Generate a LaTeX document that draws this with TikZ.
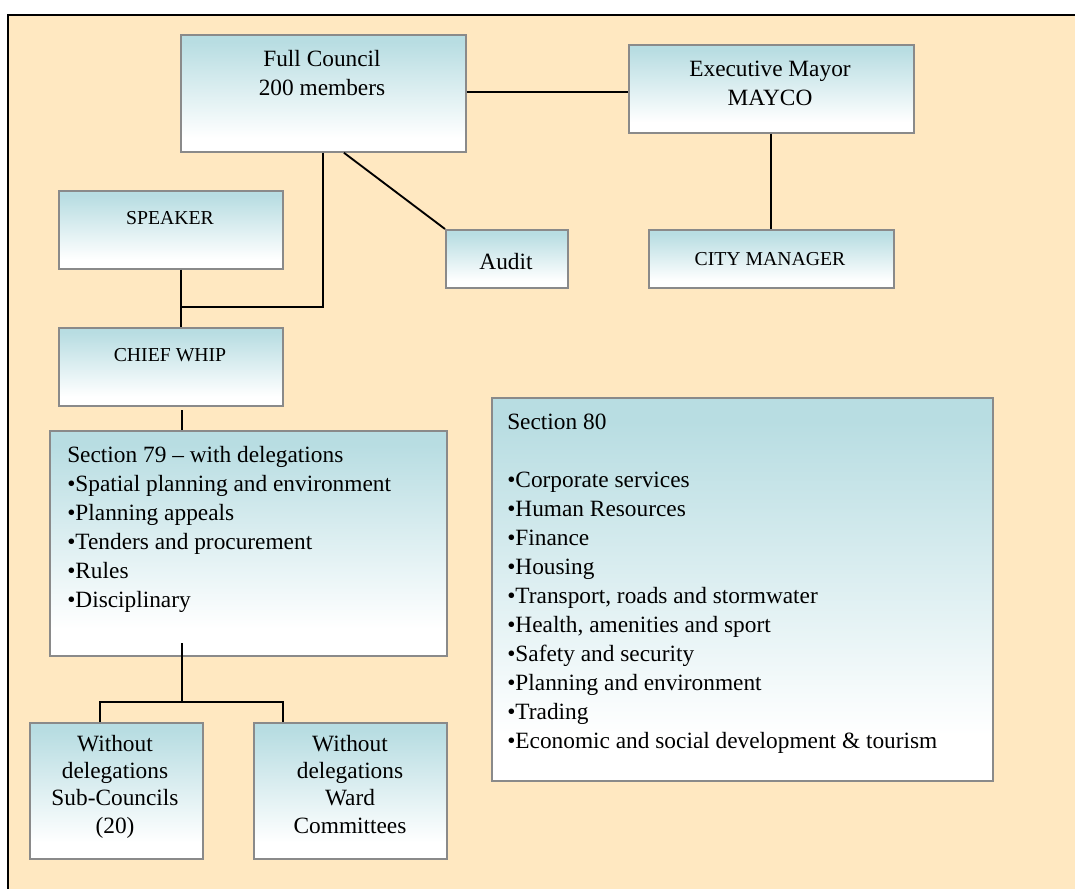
\documentclass[tikz,border=0pt]{standalone}
\usepackage{fontspec}
\setmainfont{Liberation Serif}
\usetikzlibrary{calc}

\definecolor{paper}{RGB}{255,232,193}
\definecolor{boxblue}{RGB}{184,221,226}
\definecolor{boxedge}{RGB}{138,138,138}

% light blue at the top fading to white near the bottom
\pgfdeclareverticalshading{boxfade}{100bp}{color(0bp)=(white); color(25bp)=(white); color(31bp)=(white); color(72bp)=(boxblue); color(100bp)=(boxblue)}

\tikzset{
  orgbox/.style={draw=boxedge, line width=1.3pt, shading=boxfade, inner sep=0pt, anchor=north west},
  link/.style={draw=black, line width=1.4pt},
  bigtext/.style={font=\fontsize{17.5}{21.75}\selectfont, inner sep=0pt},
  smalltext/.style={font=\fontsize{14.8}{17}\selectfont, inner sep=0pt},
}

% box from (x1,y1) to (x2,y2), in pixel units with y growing downwards
\newcommand\orgbox[5]{%
  \node[orgbox, minimum width={(#4-#2)*0.75pt}, minimum height={(#5-#3)*0.75pt}] (#1) at (#2,#3) {};}

\begin{document}
\begin{tikzpicture}[x=0.75pt, y=-0.75pt]
  \useasboundingbox (0,0) rectangle (1075,889);
  \clip (0,0) rectangle (1075,889);

  % page background with its top and left rule
  \fill[paper] (8,15) rectangle (1085,895);
  \draw[line width=1.5pt] (8,895) -- (8,15) -- (1085,15);

  % boxes
  \orgbox{fc}{180}{34}{465}{151}
  \orgbox{em}{628}{44}{913}{132}
  \orgbox{cm}{648}{229}{893}{287}
  \orgbox{au}{445}{229}{567}{287}
  \orgbox{sp}{58}{190}{282}{268}
  \orgbox{cw}{58}{327}{282}{405}
  \orgbox{sa}{49}{430}{446}{655}
  \orgbox{sc}{29}{722}{202}{858}
  \orgbox{wc}{253}{722}{446}{858}
  \orgbox{sb}{491}{397}{992}{780}

  % helper points for the elbow connectors
  \coordinate (j)  at (181,307);
  \coordinate (k1) at (182,410);
  \coordinate (k2) at (182,643);
  \coordinate (b0) at (182,702);
  \coordinate (b1) at (100,702);
  \coordinate (b2) at (283,702);

  % connectors
  \draw[link] (fc.east |- 0,92) -- (em.west |- 0,92);
  \draw[link] (em.south) -- (cm.north);
  \draw[link] ([xshift=15.4pt]fc.south) -- (au.north west);
  \draw[link] (fc.south) -- (fc.south |- j) -- (j);
  \draw[link] (sp.south -| j) -- (cw.north -| j);
  \draw[link] (k1) -- (k1 |- sa.north);
  \draw[link] (k2) -- (b0);
  \draw[link] (b1 |- sc.north) -- (b1) -- (b2) -- (b2 |- wc.north);

  % labels (multi-line labels are placed by the baseline of their last line)
  \node[bigtext, align=center, anchor=base] (fc-t) at (322,95) {Full Council\\200 members};
  \node[bigtext, align=center, anchor=base] (em-t) at (770,105) {Executive Mayor\\MAYCO};
  \node[bigtext, anchor=base] (au-t) at (506,269) {Audit};
  \node[smalltext, anchor=base] (cm-t) at (770,265) {CITY MANAGER};
  \node[smalltext, anchor=base] (sp-t) at (170,224) {SPEAKER};
  \node[smalltext, anchor=base] (cw-t) at (170,361) {CHIEF WHIP};
  \node[bigtext, align=left, anchor=base west] (sa-t) at (67,607)
    {Section 79 – with delegations\\•Spatial planning and environment\\•Planning appeals\\•Tenders and procurement\\•Rules\\•Disciplinary};
  \node[bigtext, align=left, anchor=base west] (sb-t) at (507,748)
    {Section 80\\[21.75pt]•Corporate services\\•Human Resources\\•Finance\\•Housing\\•Transport, roads and stormwater\\•Health, amenities and sport\\•Safety and security\\•Planning and environment\\•Trading\\•Economic and social development \& tourism};
  \node[bigtext, align=center, anchor=base, font=\fontsize{17.5}{20.5}\selectfont] (sc-t) at (115,833)
    {Without\\delegations\\Sub-Councils\\(20)};
  \node[bigtext, align=center, anchor=base, font=\fontsize{17.5}{20.5}\selectfont] (wc-t) at (350,833)
    {Without\\delegations\\Ward\\Committees};
\end{tikzpicture}
\end{document}
